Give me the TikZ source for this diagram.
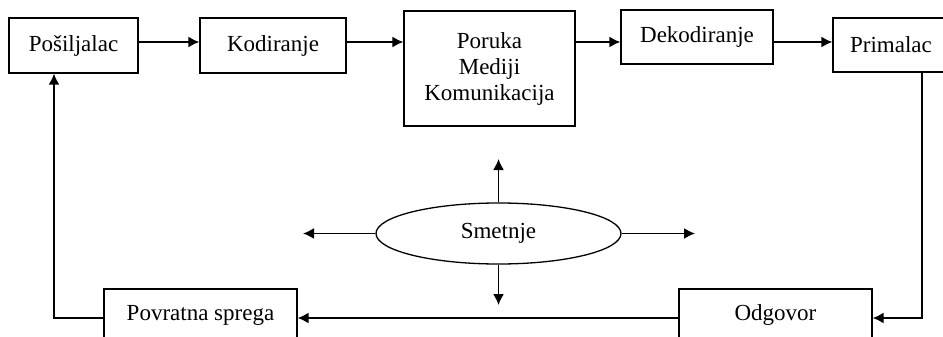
\documentclass[tikz,border=0pt]{standalone}
\usepackage{fontspec}
\setmainfont{Liberation Serif}
\usetikzlibrary{arrows.meta,shapes.geometric}
\tikzset{
x=0.5pt, y=-0.5pt, % one unit is one pixel of the sketch, y runs downwards
box/.style={draw, line width=0.65pt, inner sep=0pt, align=center, font=\fontsize{11.5}{13}\selectfont}, % the boxes
arr/.style={-{Latex[length=5.5pt,width=5.5pt]}, line width=0.8pt}, % the connectors
}

\begin{document}
\begin{tikzpicture}
		\useasboundingbox (0,0) rectangle (943,337);
		% top row
		\node[box, minimum width=64.5pt, minimum height=27.5pt] (pos) at (73.5,45.5) {Pošiljalac};
		\node[box, minimum width=73pt, minimum height=27.5pt] (kod) at (273,45.5) {Kodiranje};
		\node[box, minimum width=85.5pt, minimum height=57.5pt] (por) at (489.5,68.5) {Poruka\\Mediji\\Komunikacija};
		\node[box, minimum width=76pt, minimum height=27pt] (dek) at (697,37) {Dekodiranje};
		\node[box, minimum width=58pt, minimum height=27pt] (pri) at (891,45) {Primalac};
		% bottom row
		\node[box, minimum width=96.5pt, minimum height=26pt] (odg) at (775.5,315) {Odgovor};
		\node[box, minimum width=96.5pt, minimum height=26pt] (pov) at (200.5,315) {Povratna sprega};
		% noise
		\node[box, ellipse, minimum width=122.5pt, minimum height=30.5pt] (sme) at (498.5,233.5) {Smetnje};
		\coordinate (row) at (0,42);
		\coordinate (down) at (922,318);
		\coordinate (up) at (54,318);
		\coordinate (sn) at (498.5,159);
		\coordinate (ss) at (498.5,305);
		\coordinate (sw) at (303,233.5);
		\coordinate (se) at (695,233.5);
		\draw[arr] (pos.east |- row) -- (kod.west |- row);
		\draw[arr] (kod.east |- row) -- (por.west |- row);
		\draw[arr] (por.east |- row) -- (dek.west |- row);
		\draw[arr] (dek.east |- row) -- (pri.west |- row);
		\draw[arr] (pri.south -| down) -- (down) -- (odg.east |- down);
		\draw[arr] (odg.west |- down) -- (pov.east |- down);
		\draw[arr] (pov.west |- up) -- (up) -- (pos.south -| up);
		\draw[arr] (sme.north) -- (sn);
		\draw[arr] (sme.south) -- (ss);
		\draw[arr] (sme.west) -- (sw);
		\draw[arr] (sme.east) -- (se);
	\end{tikzpicture}
\end{document}
